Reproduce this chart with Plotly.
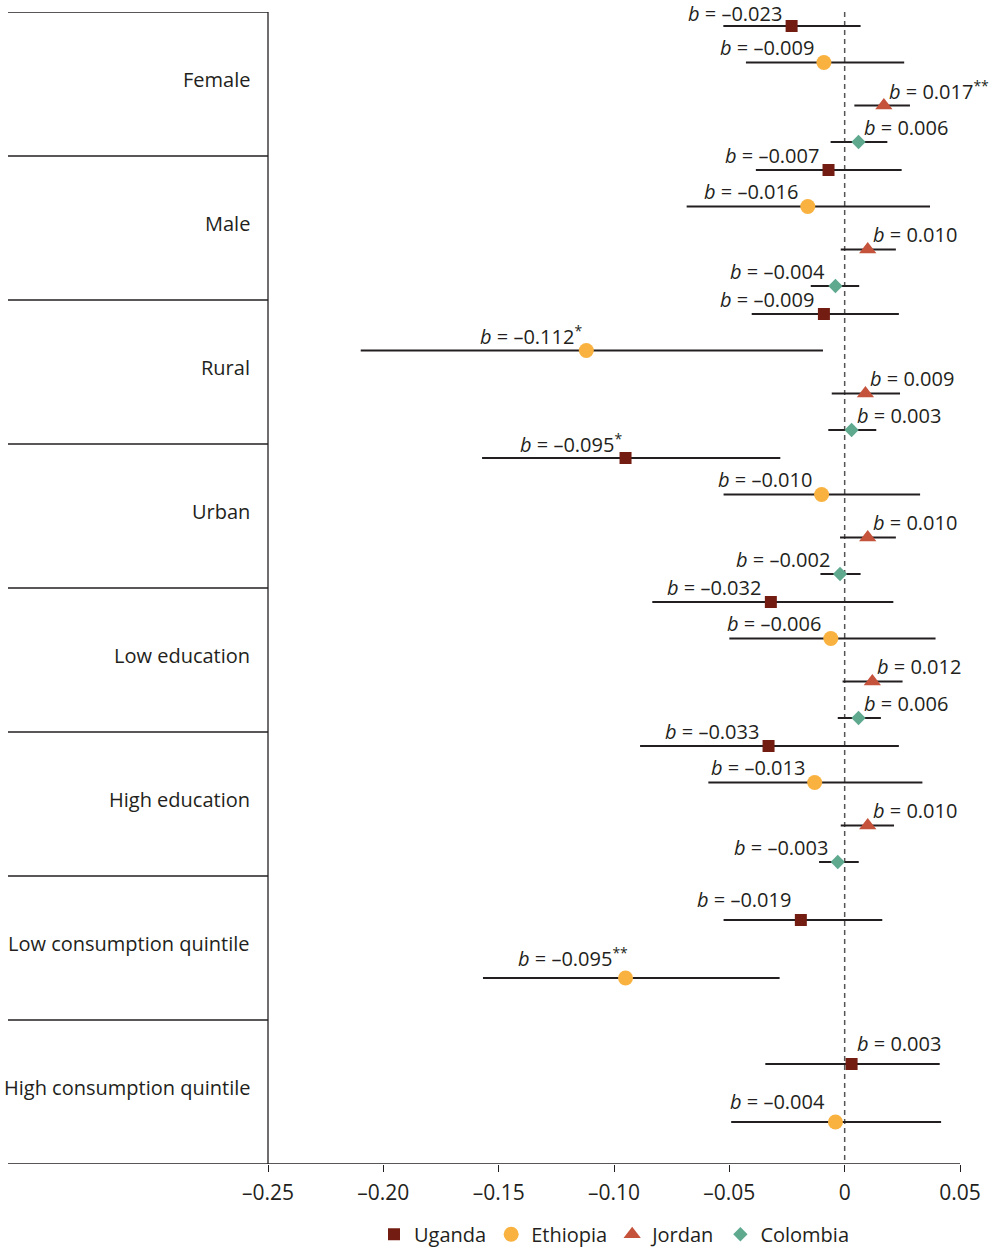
import plotly.graph_objects as go

# Subgroups (rows of the forest plot) and countries
groups = ["Female", "Male", "Rural", "Urban", "Low education", "High education",
          "Low consumption quintile", "High consumption quintile"]
countries = ["Uganda", "Ethiopia", "Jordan", "Colombia"]

# Coefficients, 95% confidence bounds and significance stars per country
uganda_b = [-0.023, -0.007, -0.009, -0.095, -0.032, -0.033, -0.019, 0.003]
uganda_lo = [-0.0526, -0.0385, -0.0403, -0.1572, -0.0834, -0.0887, -0.0525, -0.0344]
uganda_hi = [0.0069, 0.0247, 0.0235, -0.0279, 0.0211, 0.0235, 0.0163, 0.0412]
uganda_stars = ["", "", "", "*", "", "", "", ""]

ethiopia_b = [-0.009, -0.016, -0.112, -0.010, -0.006, -0.013, -0.095, -0.004]
ethiopia_lo = [-0.0428, -0.0685, -0.2098, -0.0525, -0.0500, -0.0591, -0.1568, -0.0492]
ethiopia_hi = [0.0258, 0.0370, -0.0094, 0.0327, 0.0394, 0.0337, -0.0282, 0.0418]
ethiopia_stars = ["", "", "*", "", "", "", "**", ""]

jordan_b = [0.017, 0.010, 0.009, 0.010, 0.012, 0.010]
jordan_lo = [0.0042, -0.0017, -0.0056, -0.0020, -0.0009, -0.0017]
jordan_hi = [0.0283, 0.0222, 0.0240, 0.0222, 0.0251, 0.0214]
jordan_stars = ["**", "", "", "", "", ""]

colombia_b = [0.006, -0.004, 0.003, -0.002, 0.006, -0.003]
colombia_lo = [-0.0061, -0.0147, -0.0071, -0.0105, -0.0030, -0.0111]
colombia_hi = [0.0185, 0.0063, 0.0137, 0.0069, 0.0157, 0.0061]
colombia_stars = ["", "", "", "", "", ""]

tick_vals = [-0.25, -0.20, -0.15, -0.10, -0.05, 0, 0.05]
tick_text = ["–0.25", "–0.20", "–0.15", "–0.10", "–0.05", "0", "0.05"]

series = [
    ("Uganda", uganda_b, uganda_lo, uganda_hi, uganda_stars, "square", "#731C12", 12),
    ("Ethiopia", ethiopia_b, ethiopia_lo, ethiopia_hi, ethiopia_stars, "circle", "#F9B23F", 15),
    ("Jordan", jordan_b, jordan_lo, jordan_hi, jordan_stars, "triangle-up", "#C5523A", 15),
    ("Colombia", colombia_b, colombia_lo, colombia_hi, colombia_stars, "diamond", "#5FA98F", 11),
]

FONT = "Open Sans, Lato, sans-serif"
FS = 20       # subgroup labels, coefficient labels and legend
FS_TICK = 21  # tick labels
INK = "#231F20"
ROW_H = 144  # vertical units per subgroup block
N_ROWS = len(groups)
SLOTS_4 = [14, 50.5, 93.5, 130]
SLOTS_2 = [44, 102]

# number of countries reported in each subgroup
counts = [sum(1 for s in series if g < len(s[1])) for g in range(N_ROWS)]


def slot_y(g, k):
    slots = SLOTS_4 if counts[g] == 4 else SLOTS_2
    return g * ROW_H + slots[k]


def fmt(v):
    s = f"{abs(v):.3f}"
    return ("–" + s) if v < 0 else s


fig = go.Figure()
annotations = []

for k, (name, b, lo, hi, stars, symbol, color, size) in enumerate(series):
    ys = [slot_y(g, k) for g in range(len(b))]
    fig.add_trace(go.Scatter(
        x=b, y=ys, mode="markers", name=name,
        marker=dict(symbol=symbol, size=size, color=color, line=dict(width=0)),
        error_x=dict(type="data", symmetric=False,
                     array=[h - v for h, v in zip(hi, b)],
                     arrayminus=[v - l for v, l in zip(b, lo)],
                     color=INK, thickness=2.2, width=0),
        hoverinfo="x+name",
    ))
    for g, (v, y, st) in enumerate(zip(b, ys, stars)):
        text = f"<i>b</i> = {fmt(v)}" + (f"<sup>{st}</sup>" if st else "")
        if v < 0:
            anchor, shift = "right", -8 + 6 * len(st)
        else:
            anchor, shift = "left", 3
        lift = 15 if counts[g] == 4 else 21
        lift = min(lift, y - 1)  # keep the top label inside the figure
        annotations.append(dict(
            x=v, y=y, xref="x", yref="y", text=text, showarrow=False,
            xanchor=anchor, yanchor="middle", xshift=shift, yshift=lift,
            font=dict(family=FONT, size=FS, color=INK),
        ))

# subgroup labels in the left column
LEFT = -260 / 692
for g, name in enumerate(groups):
    annotations.append(dict(
        x=-16 / 692, y=g * ROW_H + ROW_H / 2 - 5, xref="paper", yref="y",
        text=name, showarrow=False, xanchor="right", yanchor="middle",
        font=dict(family=FONT, size=FS, color=INK),
    ))

shapes = []
line_style = dict(color=INK, width=1.3)
for g in range(N_ROWS):
    shapes.append(dict(type="line", xref="paper", yref="y", x0=LEFT, x1=0,
                       y0=g * ROW_H, y1=g * ROW_H, line=line_style))
# column divider and bottom axis line
shapes.append(dict(type="line", xref="paper", yref="y", x0=0, x1=0,
                   y0=0, y1=N_ROWS * ROW_H, line=line_style))
shapes.append(dict(type="line", xref="paper", yref="y", x0=LEFT, x1=1,
                   y0=N_ROWS * ROW_H, y1=N_ROWS * ROW_H, line=line_style))
# zero reference
shapes.append(dict(type="line", xref="x", yref="y", x0=0, x1=0,
                   y0=0, y1=N_ROWS * ROW_H,
                   line=dict(color="#555555", width=1.5, dash="5px,4px"),
                   layer="below"))

fig.update_layout(
    width=989, height=1248,
    margin=dict(l=268, r=29, t=12, b=84, autoexpand=False),
    paper_bgcolor="white", plot_bgcolor="white",
    font=dict(family=FONT, size=FS, color=INK),
    showlegend=True,
    legend=dict(orientation="h", x=0.5, xanchor="center", y=-0.061, yanchor="middle",
                font=dict(family=FONT, size=FS, color=INK),
                itemwidth=30, tracegroupgap=0, itemclick=False),
    xaxis=dict(range=[-0.25, 0.05], tickvals=tick_vals, ticktext=tick_text,
               ticks="outside", ticklen=7, tickwidth=1.3, tickcolor=INK,
               ticklabelstandoff=3,
               showgrid=False, zeroline=False, showline=False,
               tickfont=dict(family=FONT, size=FS_TICK, color=INK)),
    yaxis=dict(range=[N_ROWS * ROW_H, 0], visible=False, showgrid=False,
               zeroline=False),
    shapes=shapes,
    annotations=annotations,
)

fig.write_html("out.html")
